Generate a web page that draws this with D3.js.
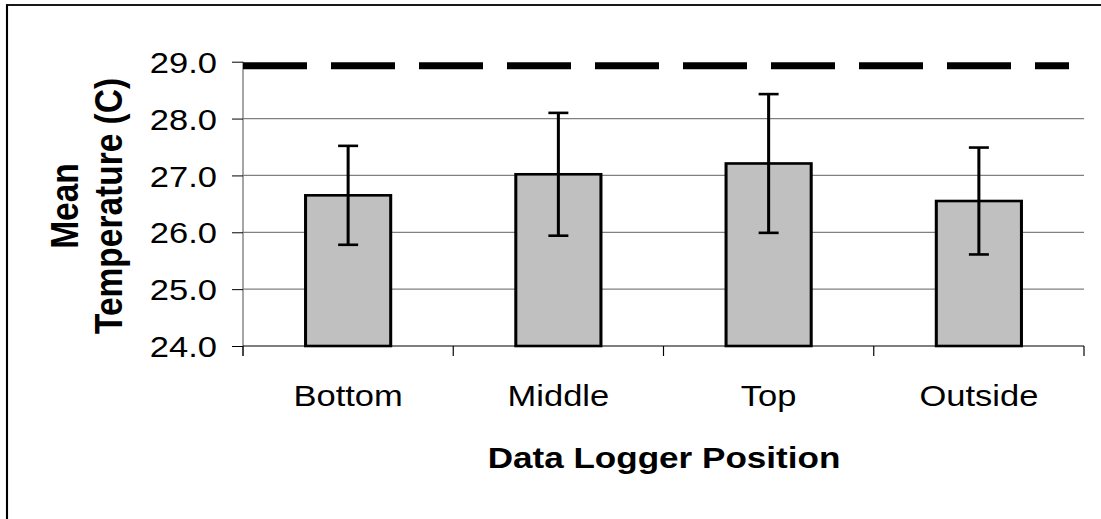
<!DOCTYPE html>
<html>
<head>
<meta charset="utf-8">
<script src="https://cdn.jsdelivr.net/npm/d3@7"></script>
<style>
  body { margin: 0; background: #fff; }
  text { font-family: "Liberation Sans", Arial, sans-serif; fill: #000; }
</style>
</head>
<body>
<svg id="chart"></svg>
<script>
const categories = ['Bottom', 'Middle', 'Top', 'Outside'];
const means = [26.65, 27.02, 27.21, 26.55];
const errors = [0.87, 1.08, 1.22, 0.94];
const limit = 28.93;
const yTicks = [24, 25, 26, 27, 28, 29];

const W = 1101, H = 519;
// the reference is stretched sideways, so draw in a narrower box
const sx = 1.17;
const px = (v) => v / sx;

const svg = d3.select('#chart')
    .attr('width', W)
    .attr('height', H)
    .attr('viewBox', `0 0 ${px(W)} ${H}`)
    .attr('preserveAspectRatio', 'none');

// outer frame (runs off the right and bottom edge)
svg.append('rect')
    .attr('x', px(7))
    .attr('y', 5)
    .attr('width', px(W + 20))
    .attr('height', H + 20)
    .attr('fill', 'none')
    .attr('stroke', '#000')
    .attr('stroke-width', 1.8);

const x = d3.scaleBand()
    .domain(categories)
    .range([px(243), px(1084)])
    .paddingInner(0.595)
    .paddingOuter(0.2975);

const y = d3.scaleLinear()
    .domain([24, 29])
    .range([346, 61.7]);

const chart = svg.append('g');

// grid lines (none at 29, the limit line sits there)
chart.append('g')
    .selectAll('line')
    .data(yTicks.slice(1, -1))
    .enter()
    .append('line')
    .attr('x1', x.range()[0])
    .attr('x2', x.range()[1])
    .attr('y1', (d) => y(d))
    .attr('y2', (d) => y(d))
    .attr('stroke', '#808080')
    .attr('stroke-width', 1.2);

// y axis
const yAxis = chart.append('g')
    .attr('transform', `translate(${x.range()[0]},0)`)
    .call(d3.axisLeft(y)
        .tickValues(yTicks)
        .tickFormat(d3.format('.1f'))
        .tickSize(px(11))
        .tickPadding(px(15)));

yAxis.select('.domain')
    .attr('d', `M0,${y(29)}V${y(24) + 10}`)
    .attr('stroke', '#808080')
    .attr('stroke-width', 1.2);
yAxis.selectAll('.tick line').attr('stroke', '#000').attr('stroke-width', 1);
yAxis.selectAll('.tick text')
    .attr('font-size', 29.5)
    .attr('font-family', '"Liberation Sans", Arial, sans-serif')
    .attr('dy', '0.36em');

// x axis
const xAxis = chart.append('g')
    .attr('transform', `translate(0,${y(24)})`)
    .call(d3.axisBottom(x).tickSize(0).tickPadding(0));

xAxis.select('.domain')
    .attr('d', `M${x.range()[0]},0H${x.range()[1]}`)
    .attr('stroke', '#000')
    .attr('stroke-width', 1.2);
xAxis.selectAll('.tick text')
    .attr('font-size', 29.5)
    .attr('font-family', '"Liberation Sans", Arial, sans-serif')
    .attr('y', 60)
    .attr('dy', 0);

// category separators
const step = x.step();
chart.append('g')
    .selectAll('line')
    .data(d3.range(categories.length + 1))
    .enter()
    .append('line')
    .attr('x1', (i) => x.range()[0] + i * step)
    .attr('x2', (i) => x.range()[0] + i * step)
    .attr('y1', y(24))
    .attr('y2', y(24) + 10)
    .attr('stroke', '#000')
    .attr('stroke-width', 1);

// bars
const groups = chart.selectAll('.bar-group')
    .data(categories.map((c, i) => ({ c, m: means[i], e: errors[i] })))
    .enter()
    .append('g');

groups.append('rect')
    .attr('x', (d) => x(d.c))
    .attr('y', (d) => y(d.m))
    .attr('width', x.bandwidth())
    .attr('height', (d) => y(24) - y(d.m))
    .attr('fill', '#c0c0c0')
    .attr('stroke', '#000')
    .attr('stroke-width', 2.6);

// error bars
const cx = (d) => x(d.c) + x.bandwidth() / 2;
groups.append('line')
    .attr('x1', cx).attr('x2', cx)
    .attr('y1', (d) => y(d.m + d.e))
    .attr('y2', (d) => y(d.m - d.e))
    .attr('stroke', '#000')
    .attr('stroke-width', 2.6);

groups.selectAll('.cap')
    .data((d) => [d.m + d.e, d.m - d.e].map((v) => ({ d, v })))
    .enter()
    .append('line')
    .attr('x1', (o) => cx(o.d) - px(10))
    .attr('x2', (o) => cx(o.d) + px(10))
    .attr('y1', (o) => y(o.v))
    .attr('y2', (o) => y(o.v))
    .attr('stroke', '#000')
    .attr('stroke-width', 2.6);

// limit line
chart.append('line')
    .attr('x1', x.range()[0])
    .attr('x2', x.range()[1] - px(15))
    .attr('y1', y(limit))
    .attr('y2', y(limit))
    .attr('stroke', '#000')
    .attr('stroke-width', 7)
    .attr('stroke-dasharray', `${px(64)},${px(24)}`);

// axis titles
svg.append('text')
    .attr('x', px(664))
    .attr('y', 468)
    .attr('text-anchor', 'middle')
    .attr('font-size', 30)
    .attr('font-weight', 'bold')
    .text('Data Logger Position');

const yTitle = svg.append('text')
    .attr('transform', `translate(${px(78)},206) rotate(-90)`)
    .attr('text-anchor', 'middle')
    .attr('font-size', 33.5)
    .attr('font-weight', 'bold');

yTitle.append('tspan')
    .attr('x', 0)
    .attr('y', 0)
    .text('Mean');

yTitle.append('tspan')
    .attr('x', 0)
    .attr('y', px(44))
    .text('Temperature (C)');
</script>
</body>
</html>
